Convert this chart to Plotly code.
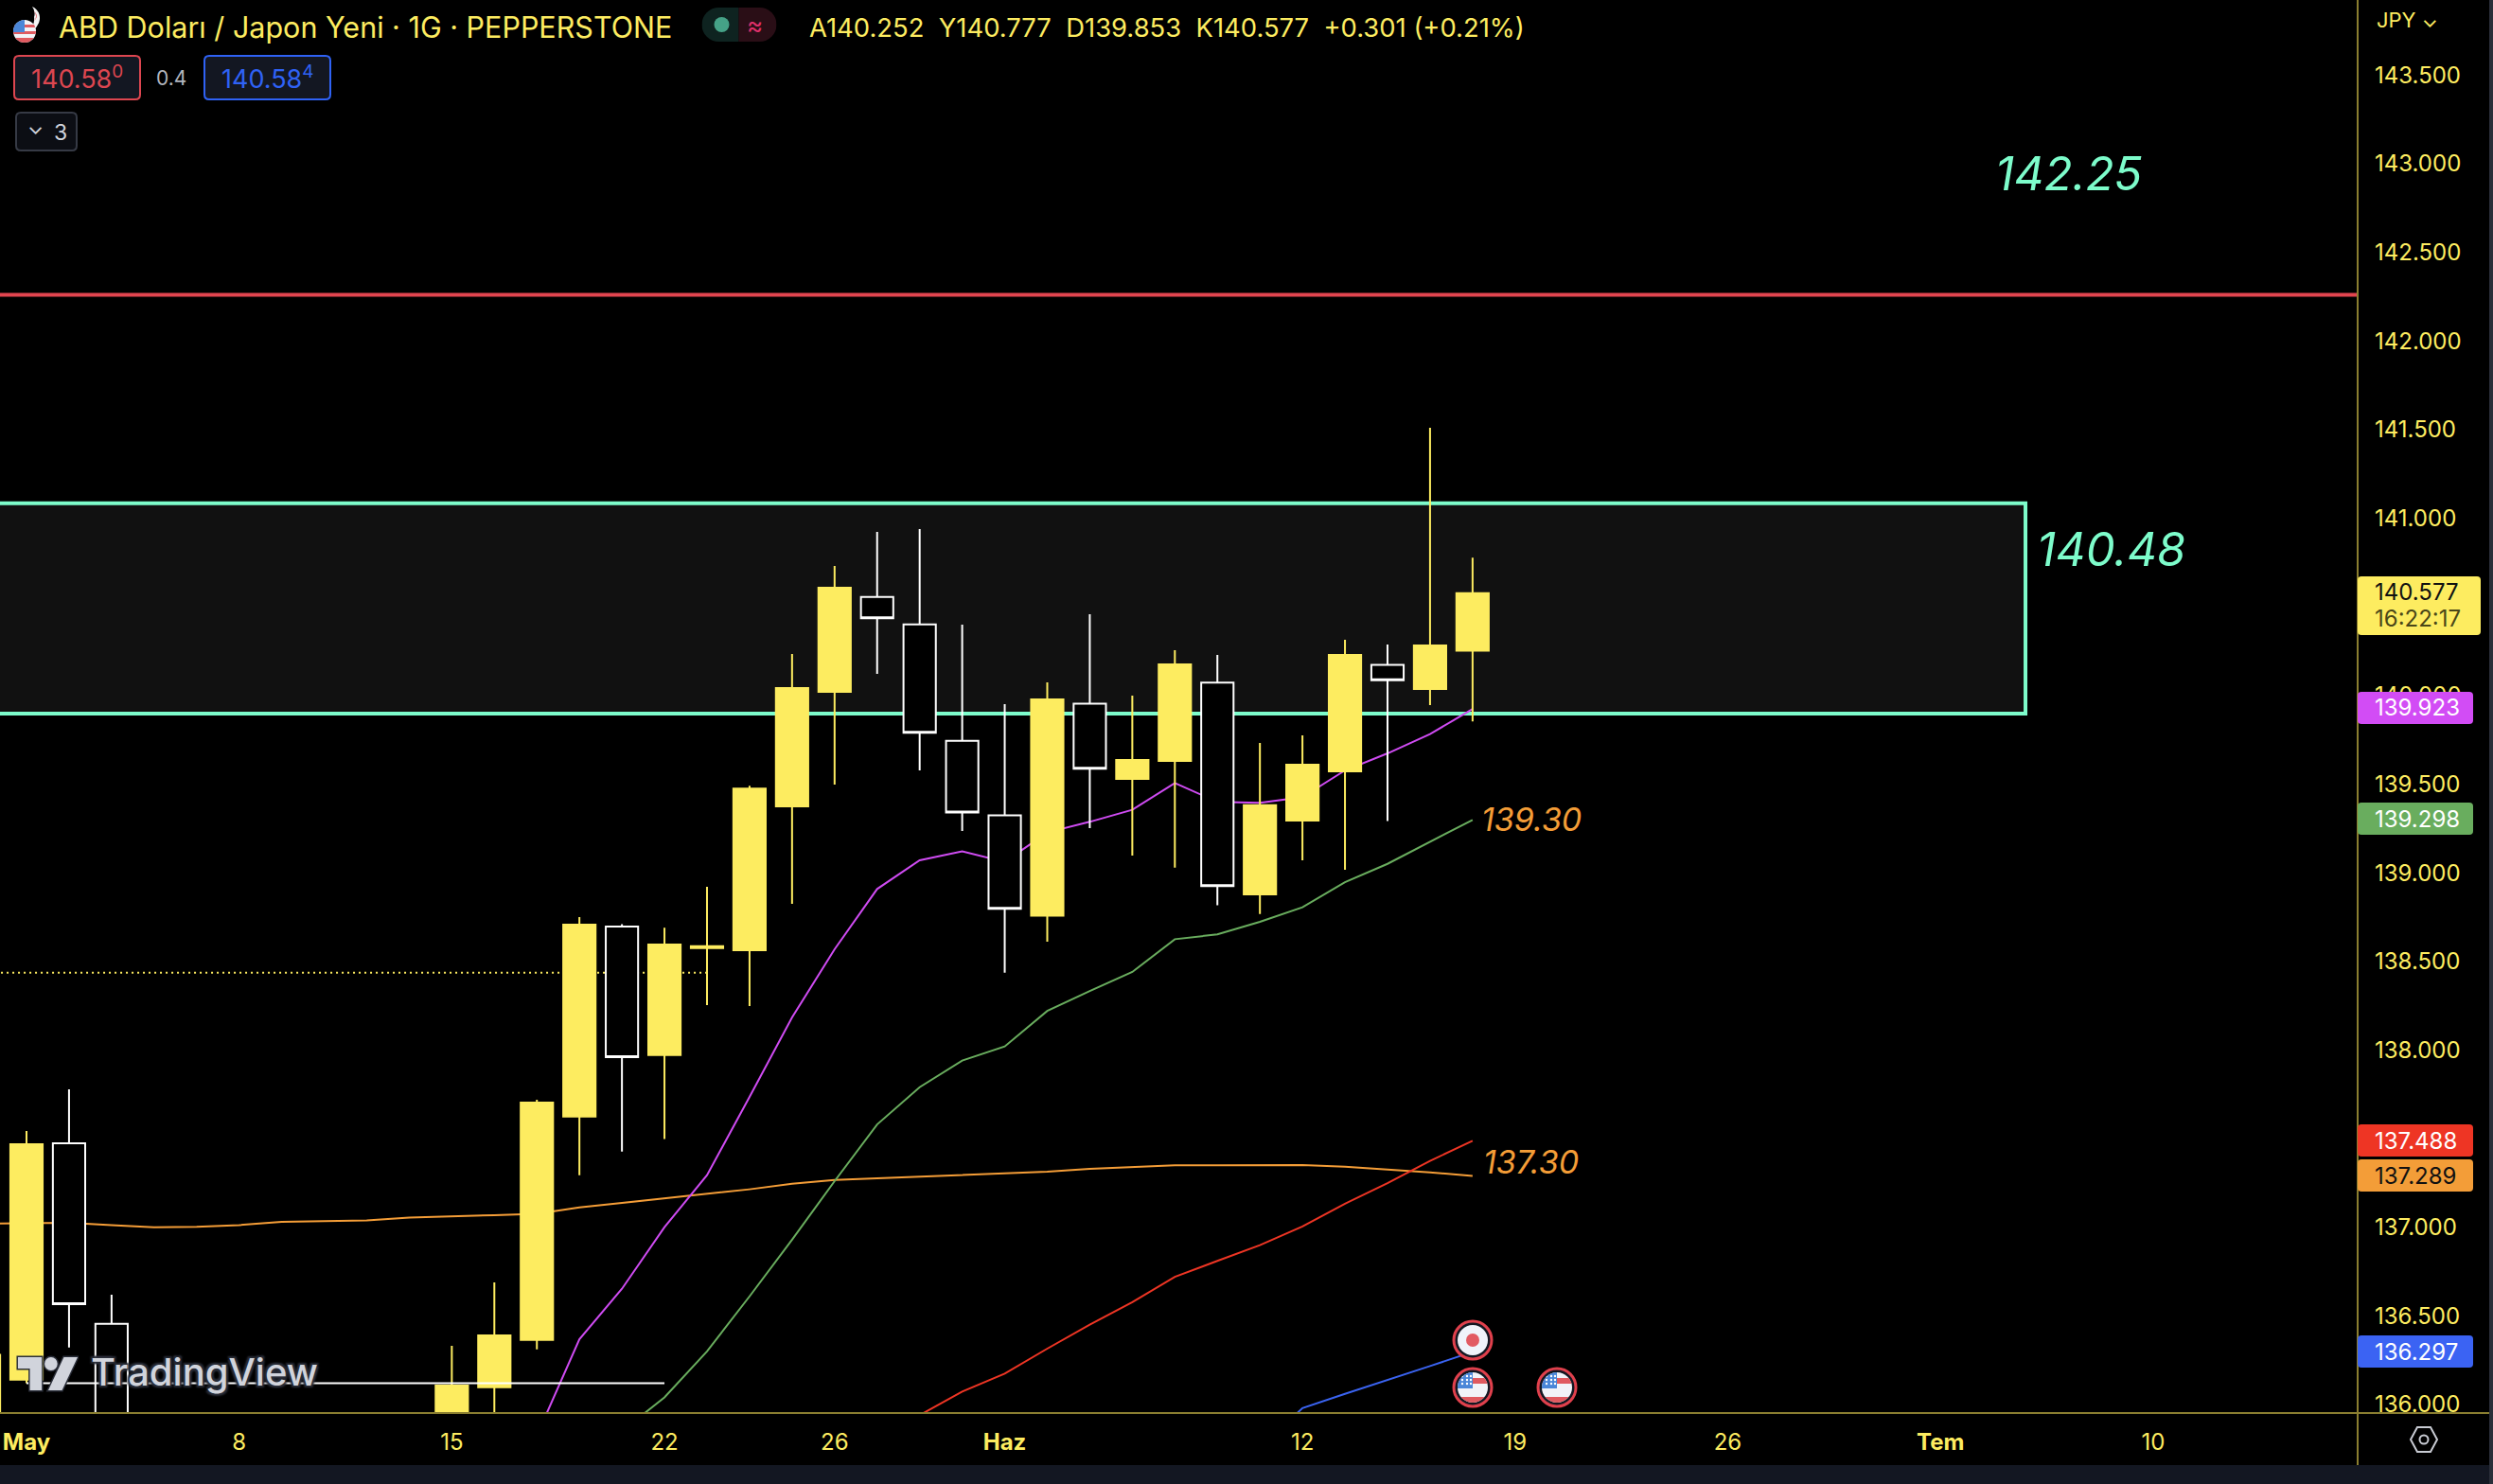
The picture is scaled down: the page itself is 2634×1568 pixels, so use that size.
import base64
import plotly.graph_objects as go

# ---------- data ----------
axis_days = ["04-27","04-28","05-01","05-02","05-03","05-04","05-05","05-08","05-09","05-10","05-11","05-12",
             "05-15","05-16","05-17","05-18","05-19","05-22","05-23","05-24","05-25","05-26","05-29","05-30",
             "05-31","06-01","06-02","06-05","06-06","06-07","06-08","06-09","06-12","06-13","06-14","06-15",
             "06-16","06-19","06-20","06-21","06-22","06-23","06-26","06-27","06-28","06-29","06-30","07-03",
             "07-04","07-05","07-06","07-07","07-10","07-11","07-12","07-13","07-14","07-17","07-18"]
tick_days = ["05-01","05-08","05-15","05-22","05-26","06-01","06-12","06-19","06-26","07-03","07-10"]
tick_names = ["<b>May</b>","8","15","22","26","<b>Haz</b>","12","19","26","<b>Tem</b>","10"]
price_ticks = [136.0,136.5,137.0,137.5,138.0,138.5,139.0,139.5,140.0,140.5,141.0,141.5,142.0,142.5,143.0,143.5]

candle_days = ["04-28","05-01","05-02","05-03","05-15","05-16","05-17","05-18","05-19","05-22","05-23","05-24",
               "05-25","05-26","05-29","05-30","05-31","06-01","06-02","06-05","06-06","06-07","06-08","06-09",
               "06-12","06-13","06-14","06-15","06-16"]
opens  = [135.6,136.14,137.473,136.455,135.6,136.098,136.365,137.625,138.696,137.972,138.575,138.563,
          139.374,140.02,140.556,140.401,139.744,139.323,138.757,139.953,139.529,139.631,140.072,138.878,
          139.294,139.572,140.173,140.036,140.252]
highs  = [136.28,137.543,137.778,136.619,136.331,136.689,137.719,138.75,138.71,138.69,138.92,139.49,
          140.234,140.73,140.923,140.939,140.399,139.951,140.074,140.458,139.999,140.255,140.229,139.732,
          139.775,140.314,140.287,141.51,140.777]
lows   = [135.5,136.12,136.322,135.5,135.4,135.7,136.311,137.294,137.427,137.497,138.253,138.248,
          138.824,139.497,140.122,139.577,139.235,138.436,138.611,139.251,139.097,139.029,138.816,138.767,
          139.07,139.017,139.291,139.946,139.853]
closes = [136.28,137.468,136.566,135.7,136.107,136.39,137.703,138.707,137.96,138.595,138.585,139.475,
          140.042,140.607,140.435,139.789,139.34,138.796,139.978,139.586,139.636,140.175,138.924,139.381,
          139.609,140.229,140.086,140.282,140.577]

orange_days = candle_days[:4] + ["05-04","05-05","05-08","05-09","05-10","05-11","05-12"] + candle_days[4:]
orange = [137.021,137.023,137.025,137.012,137.0,137.002,137.012,137.03,137.036,137.039,137.055,137.06,137.068,
          137.076,137.112,137.137,137.164,137.187,137.214,137.245,137.267,137.276,137.285,137.292,137.3,137.313,
          137.33,137.34,137.35,137.35,137.352,137.351,137.342,137.326,137.31,137.289]
magenta_days = ["05-16","05-17","05-18","05-19","05-22","05-23","05-24","05-25","05-26","05-29","05-30","05-31",
                "06-01","06-02","06-05","06-06","06-07","06-08","06-09","06-12","06-13","06-14","06-15","06-16"]
magenta = [135.5,135.825,136.368,136.653,137.0,137.294,137.735,138.184,138.568,138.908,139.07,139.12,
           139.061,139.227,139.287,139.355,139.506,139.399,139.394,139.426,139.577,139.673,139.782,139.923]
green_days = magenta_days[3:]
green = [135.85,136.04,136.3,136.61,136.93,137.26,137.58,137.79,137.94,138.02,138.22,138.333,138.44,138.625,
         138.652,138.723,138.805,138.947,139.05,139.175,139.298]
red_days = magenta_days[9:]
red = [135.8,135.94,136.073,136.174,136.315,136.45,136.577,136.72,136.81,136.899,137.004,137.133,137.249,137.374,137.488]
blue_days = magenta_days[-6:]
blue = [135.75,135.98,136.06,136.137,136.217,136.297]

zone_top, zone_bottom = 141.084, 139.897
resistance = 142.26
dotted_days, dotted_level = ["04-28","05-23"], [138.436,138.436]
white_days, white_level = ["05-01","05-22"], [136.12,136.12]

# ---------- colours and canvas ----------
W, H = 2634, 1568
PW, PH = 2491, 1493
YEL, WHITE, CYAN, AX = "#FDEC60", "#FFFFFF", "#7DFCCB", "#8A7E30"
PANEL = "#131722"

def px(x): return x / W
def py(y): return (H - y) / H
def rrect(x0, y0, x1, y1, r=5):
    a, b, c, d = px(x0), py(y0), px(x1), py(y1)
    rx, ry = r / W, r / H
    return (f"M{a+rx},{b} L{c-rx},{b} Q{c},{b} {c},{b-ry} L{c},{d+ry} Q{c},{d} {c-rx},{d} "
            f"L{a+rx},{d} Q{a},{d} {a},{d+ry} L{a},{b-ry} Q{a},{b} {a+rx},{b} Z")
def uri(svg): return "data:image/svg+xml;base64," + base64.b64encode(svg.encode()).decode()

flag_body = ('<rect x="0" y="0" width="44" height="44" fill="#f2f3f8"/>'
             '<rect x="0" y="12" width="44" height="6" fill="#e05a60"/>'
             '<rect x="0" y="32" width="44" height="12" fill="#e05a60"/>'
             '<rect x="0" y="0" width="22" height="23" fill="#4a86d8"/>'
             + "".join(f'<circle cx="{x}" cy="{y}" r="1.2" fill="#fff"/>' for x in (11,16,20) for y in (10,14,18)))
flag_svg = ('<svg xmlns="http://www.w3.org/2000/svg" width="44" height="44" viewBox="0 0 44 44">'
            '<defs><clipPath id="c"><circle cx="22" cy="22" r="16"/></clipPath></defs>'
            f'<circle cx="22" cy="22" r="20" fill="{PANEL}" stroke="#E0404C" stroke-width="3"/>'
            f'<g clip-path="url(#c)">{flag_body}</g></svg>')
event_svg = ('<svg xmlns="http://www.w3.org/2000/svg" width="44" height="44" viewBox="0 0 44 44">'
             f'<circle cx="22" cy="22" r="20" fill="{PANEL}" stroke="#E0404C" stroke-width="3"/>'
             '<circle cx="22" cy="22" r="16" fill="#F0F3FA"/><circle cx="22" cy="22" r="7" fill="#E25A62"/></svg>')
symbol_svg = ('<svg xmlns="http://www.w3.org/2000/svg" width="30" height="40" viewBox="0 0 30 40">'
              '<path d="M20 1 A13 13 0 0 1 26 20 A10 10 0 0 1 16 26 A15 15 0 0 0 22 12 A12 12 0 0 0 20 1Z" fill="#f4f4f4"/>'
              '<path d="M22 6 a6 6 0 0 1 0 10 a7 7 0 0 0 0 -10Z" fill="#e0404c"/>'
              '<defs><clipPath id="s"><circle cx="12" cy="27" r="12"/></clipPath></defs>'
              '<g clip-path="url(#s)"><rect width="30" height="40" fill="#f2f3f8"/>'
              '<rect y="20" width="30" height="3" fill="#e05a60"/><rect y="27" width="30" height="3" fill="#e05a60"/>'
              '<rect y="34" width="30" height="6" fill="#e05a60"/><rect y="14" width="12" height="14" fill="#4a86d8"/></g></svg>')
tv_svg = ('<svg xmlns="http://www.w3.org/2000/svg" width="68" height="40" viewBox="0 0 68 40">'
          '<g stroke="#2a2e39" stroke-width="3" fill="#D1D4DC" paint-order="stroke">'
          '<path d="M2 2 H28 V37 H15 V14 H2Z"/><circle cx="38" cy="9" r="7"/><path d="M52 2 H67 L50 37 H35Z"/></g></svg>')
gear_svg = ('<svg xmlns="http://www.w3.org/2000/svg" width="32" height="30" viewBox="0 0 32 30">'
            '<path d="M9 2 H23 L30 15 L23 28 H9 L2 15Z" fill="none" stroke="#C8CBD3" stroke-width="2"/>'
            '<circle cx="16" cy="15" r="4.5" fill="none" stroke="#C8CBD3" stroke-width="2"/></svg>')
chip_svg = ('<svg xmlns="http://www.w3.org/2000/svg" width="79" height="36" viewBox="0 0 79 36">'
            '<path d="M39 0 H18 A18 18 0 0 0 18 36 H39Z" fill="#0E2320"/>'
            '<path d="M39 0 H61 A18 18 0 0 1 61 36 H39Z" fill="#2A0E16"/>'
            '<ellipse cx="21" cy="18" rx="8" ry="8" fill="#45A287"/></svg>')

def image(src, cx, cy, w, h):
    return dict(source=uri(src), xref="paper", yref="paper", x=px(cx), y=py(cy), sizex=w / W, sizey=h / H,
                xanchor="center", yanchor="middle", sizing="stretch", layer="above")

def text(s, x, y, color, size, anchor="left", family="Inter", style="normal", shadow=None, weight=None):
    f = dict(color=color, size=size, family=family, style=style)
    if shadow: f["shadow"] = shadow
    if weight: f["weight"] = weight
    return dict(text=s, xref="paper", yref="paper", x=px(x), y=py(y), xanchor=anchor, yanchor="middle",
                showarrow=False, font=f, borderpad=0, align=anchor if anchor != "center" else "center")

fig = go.Figure()
line_sets = [(orange_days, orange, "#F49D37"), (magenta_days, magenta, "#CF4BF2"), (green_days, green, "#69AD5E"),
             (red_days, red, "#EE3524"), (blue_days, blue, "#3A63F0")]
for days, vals, col in line_sets:
    fig.add_trace(go.Scatter(x=days, y=vals, mode="lines", line=dict(color=col, width=2), xaxis="x", yaxis="y"))
fig.add_trace(go.Scatter(x=dotted_days, y=dotted_level, mode="lines",
                         line=dict(color=YEL, width=2, dash="2px,4px"), xaxis="x", yaxis="y"))

fig.add_trace(go.Candlestick(x=candle_days, open=opens, high=highs, low=lows, close=closes,
                             increasing=dict(line=dict(color=YEL, width=2), fillcolor=YEL),
                             decreasing=dict(line=dict(color=WHITE, width=2), fillcolor="#000000"),
                             whiskerwidth=0, xaxis="x2", yaxis="y2"))
fig.add_trace(go.Scatter(x=white_days, y=white_level, mode="lines", line=dict(color=WHITE, width=2),
                         xaxis="x2", yaxis="y2"))

xrange_ = [1.377, 56.81]
yrange_ = [135.952, 143.923]
xdom = [0, PW / W]
ydom = [1 - PH / H, 1]
base_x = dict(type="category", categoryorder="array", categoryarray=axis_days, range=xrange_, domain=xdom,
              showgrid=False, zeroline=False)
shapes = [
    dict(type="rect", xref="x", yref="y", x0="04-27", x1="07-05", y0=zone_bottom, y1=zone_top,
         fillcolor="#111111", line=dict(color=CYAN, width=4), layer="below"),
    dict(type="line", xref="x", yref="y", x0="04-27", x1="07-18", y0=resistance, y1=resistance,
         line=dict(color="#E2454F", width=4), layer="below"),
    # bottom and right panels
    dict(type="rect", xref="paper", yref="paper", x0=px(0), x1=px(W), y0=py(H), y1=py(1548),
         fillcolor=PANEL, line=dict(width=0)),
    dict(type="rect", xref="paper", yref="paper", x0=px(2630), x1=px(W), y0=py(H), y1=py(0),
         fillcolor="#2A2E39", line=dict(width=0)),
    dict(type="line", xref="paper", yref="paper", x0=px(0), x1=px(2630), y0=py(PH), y1=py(PH),
         line=dict(color=AX, width=2)),
    dict(type="line", xref="paper", yref="paper", x0=px(PW), x1=px(PW), y0=py(0), y1=py(1548),
         line=dict(color=AX, width=2)),
    # header pills
    dict(type="path", xref="paper", yref="paper", path=rrect(15, 59, 148, 105), fillcolor=PANEL,
         line=dict(color="#DD4650", width=2)),
    dict(type="path", xref="paper", yref="paper", path=rrect(216, 59, 349, 105), fillcolor=PANEL,
         line=dict(color="#2F62F5", width=2)),
    dict(type="path", xref="paper", yref="paper", path=rrect(17, 119, 81, 159), fillcolor="#0C0E14",
         line=dict(color="#363A45", width=2)),
]
tags = [(140.577, 609, 671, 2621, YEL), (139.923, 731, 765, 2613, "#D24CF5"), (139.298, 848, 882, 2613, "#69AD5E"),
        (137.488, 1188, 1222, 2613, "#EE3524"), (137.289, 1225, 1259, 2613, "#F39D38"), (136.297, 1411, 1445, 2613, "#3B63F3")]
for _, y0, y1, x1, col in tags:
    shapes.append(dict(type="path", xref="paper", yref="paper", path=rrect(PW, y0, x1, y1, 4), fillcolor=col,
                       line=dict(width=0)))

tick_f = 24
ann = [
    text("ABD Doları / Japon Yeni · 1G · PEPPERSTONE", 61, 28, YEL, 30.5),
    text("≈", 797, 26, "#E0306A", 26, "center"),
    text("A140.252  Y140.777  D139.853  K140.577  +0.301 (+0.21%)", 854, 29, YEL, 27.4),
    text("140.58<sup>0</sup>", 81, 82, "#DD4650", 27, "center"),
    text("0.4", 181, 83, "#B2B5BE", 21, "center"),
    text("140.58<sup>4</sup>", 283, 82, "#2F62F5", 27, "center"),
    text("⌄", 37, 134, "#D1D4DC", 22, "center"),
    text("3", 64, 140, "#D1D4DC", 23, "center"),
    text("142.25", 2185, 184, CYAN, 49, "center", style="italic"),
    text("140.48", 2230, 580, CYAN, 49, "center", style="italic"),
    text("139.30", 1618, 865, "#F49D37", 34, "center", style="italic"),
    text("137.30", 1618, 1227, "#F49D37", 34, "center", style="italic"),
    text("TradingView", 95, 1449, "#D1D4DC", 40, "left", weight=500,
         shadow="2px 2px 2px #2a2e39, -2px -2px 2px #2a2e39, 2px -2px 2px #2a2e39, -2px 2px 2px #2a2e39"),
    text("JPY ⌄", 2510, 21, YEL, 22),
    text("140.577", 2508, 625, "#111111", tick_f),
    text("16:22:17", 2508, 653, "#4A4718", tick_f),
    text("139.923", 2508, 747, WHITE, tick_f),
    text("139.298", 2508, 865, WHITE, tick_f),
    text("137.488", 2508, 1205, WHITE, tick_f),
    text("137.289", 2508, 1242, "#111111", tick_f),
    text("136.297", 2508, 1428, WHITE, tick_f),
]

images = [
    image(symbol_svg, 29, 26, 30, 40),
    image(chip_svg, 781, 26, 79, 36),
    image(event_svg, 1556, 1416, 44, 44),
    image(flag_svg, 1556, 1466, 44, 44),
    image(flag_svg, 1645, 1466, 44, 44),
    image(tv_svg, 50, 1452, 66, 40),
    image(gear_svg, 2561, 1521, 32, 30),
]

fig.update_layout(
    width=W, height=H, margin=dict(l=0, r=0, t=0, b=0, autoexpand=False), autosize=False,
    paper_bgcolor="#000000", plot_bgcolor="#000000", showlegend=False, boxgap=0.24, boxgroupgap=0, hovermode=False,
    xaxis=dict(**base_x, anchor="y", tickmode="array", tickvals=tick_days, ticktext=tick_names, ticks="",
               tickangle=0, tickfont=dict(color=YEL, size=tick_f, family="Inter"), ticklabelstandoff=14,
               showline=False, rangeslider=dict(visible=False)),
    yaxis=dict(domain=ydom, range=yrange_, side="right", anchor="x", tickmode="array", tickvals=price_ticks,
               ticktext=[f"{v:.3f}" for v in price_ticks], ticks="", showgrid=False, zeroline=False, showline=False,
               tickfont=dict(color=YEL, size=tick_f, family="Inter"), ticklabelstandoff=17),
    xaxis2=dict(**base_x, overlaying="x", anchor="y2", visible=False, rangeslider=dict(visible=False)),
    yaxis2=dict(domain=ydom, range=yrange_, overlaying="y", side="right", anchor="x2", visible=False,
                showgrid=False, zeroline=False),
    shapes=shapes, annotations=ann, images=images,
)
fig.write_html("out.html", config=dict(displayModeBar=False),
               post_script="document.body.style.margin='0';document.body.style.overflow='hidden';")
